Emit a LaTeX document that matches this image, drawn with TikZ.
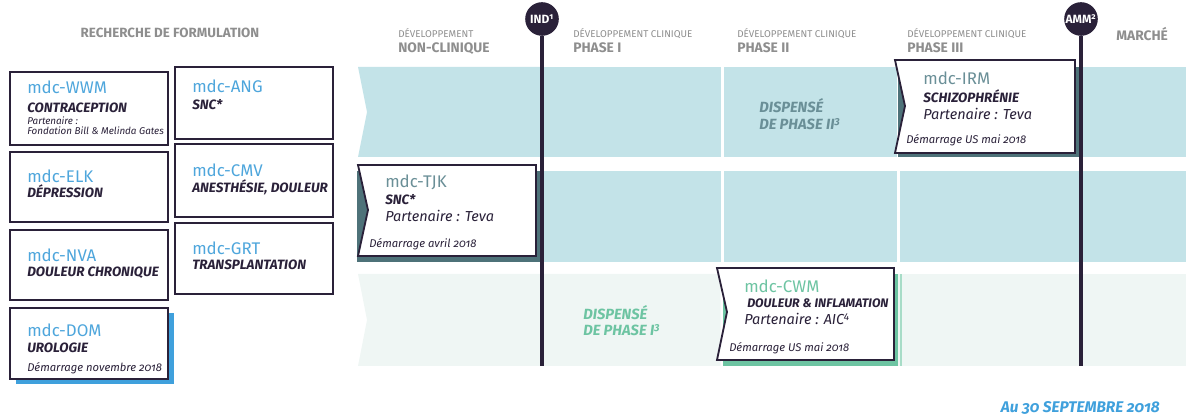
\documentclass[tikz,border=0pt]{standalone}
\usepackage{fontspec}
\setmainfont{Fira Sans}[Numbers=OldStyle]
\usepackage{tikz}
\usetikzlibrary{fit}

\definecolor{ink}{HTML}{2A2139}
\definecolor{mdcblue}{HTML}{4EA6DC}
\definecolor{headgray}{HTML}{8E8E8E}
\definecolor{bandblue}{HTML}{C3E3E8}
\definecolor{bandmint}{HTML}{EFF6F4}
\definecolor{tealdark}{HTML}{4E7279}
\definecolor{tealtext}{HTML}{6A8F97}
\definecolor{mint}{HTML}{6DC4A2}
\definecolor{domblue}{HTML}{3FA0DC}

\begin{document}
\begin{tikzpicture}[x=0.025cm, y=-0.025cm,
    card/.style={draw=ink, line width=1.3pt, fill=white, inner sep=0pt, line join=miter},
    txt/.style={anchor=base west, inner sep=0pt, text=ink},
    code/.style={txt, font=\fontsize{12}{13}\selectfont, text=mdcblue},
    area/.style={txt, font=\fontsize{9.6}{10}\selectfont\bfseries\itshape},
    partner/.style={txt, font=\fontsize{10.3}{11}\selectfont\itshape},
    startdate/.style={txt, font=\fontsize{8}{9}\selectfont\itshape},
    small/.style={txt, font=\fontsize{7}{8}\selectfont\itshape},
    stage/.style={txt, font=\fontsize{7}{8}\selectfont, text=headgray},
    phase/.style={txt, font=\fontsize{9.8}{10}\selectfont\bfseries, text=headgray},
    waived/.style={txt, font=\fontsize{10.5}{12}\selectfont\bfseries\itshape},
    milestone/.style={circle, fill=ink, text=white, minimum size=0.84cm, inner sep=0pt,
      font=\fontsize{8.5}{9}\selectfont\bfseries},
    stem/.style={draw=ink, line width=2.2pt},
  ]
  \useasboundingbox (0,0) rectangle (1186,419);

  % bands
  \foreach \top/\bot in {67/157, 171/262}
    \foreach \a/\b in {542/720.5, 723.5/896.5, 899.5/1186}
      \fill[bandblue] (\a,\top) rectangle (\b,\bot);
  \fill[bandblue] (358,67) -- (542,67) -- (542,157) -- (358,157) -- (367,112) -- cycle;
  \fill[tealdark] (898,67) rectangle (1081,157);
  \fill[tealdark] (357,171) rectangle (542,262);
  \fill[bandmint] (358,274) -- (720.5,274) -- (720.5,366) -- (358,366) -- (367,320) -- cycle;
  \fill[bandmint] (723.5,274) rectangle (1186,366);
  \fill[mint] (723,274) rectangle (898,366);
  \fill[mint!60] (900,274) rectangle (902,366);

  % headers
  \node[txt, anchor=base, font=\fontsize{9.5}{10}\selectfont\bfseries, text=headgray] (research) at (170,38) {RECHERCHE DE FORMULATION};
  \node[stage] (st1) at (398,38) {DÉVELOPPEMENT};
  \node[phase] (ph1) at (398,53) {NON-CLINIQUE};
  \node[stage] (st2) at (573,38) {DÉVELOPPEMENT CLINIQUE};
  \node[phase] (ph2) at (573,53) {PHASE I};
  \node[stage] (st3) at (737,38) {DÉVELOPPEMENT CLINIQUE};
  \node[phase] (ph3) at (737,53) {PHASE II};
  \node[stage] (st4) at (907,38) {DÉVELOPPEMENT CLINIQUE};
  \node[phase] (ph4) at (907,53) {PHASE III};
  \node[phase] (market) at (1116,41) {MARCHÉ};

  % milestones
  \node[milestone] (ind) at (542,19) {IND\textsuperscript{1}};
  \node[milestone] (amm) at (1081,19) {AMM\textsuperscript{2}};
  \coordinate (indend) at (542,366);
  \coordinate (ammend) at (1081,366);
  \draw[stem] (ind.south) -- (indend);
  \draw[stem] (amm.south) -- (ammend);

  % formulation
  \node[card, fit={(10,72) (168,145)}] (wwm) {};
  \node[code] (wwmcode) at (27,94) {mdc-WWM};
  \node[area] (wwmarea) at (27,113) {CONTRACEPTION};
  \node[small] (wwmpart) at (27,125) {Partenaire :};
  \node[small] (wwmname) at (27,135) {Fondation Bill \& Melinda Gates};

  \node[card, fit={(10,152) (168,222)}] (elk) {};
  \node[code] (elkcode) at (27,183) {mdc-ELK};
  \node[area] (elkarea) at (27,198) {DÉPRESSION};

  \node[card, fit={(10,230) (168,300)}] (nva) {};
  \node[code] (nvacode) at (27,262) {mdc-NVA};
  \node[area] (nvaarea) at (27,277) {DOULEUR CHRONIQUE};

  \fill[domblue] (16,313) rectangle (174,384);
  \node[card, fit={(10,308) (168,379)}] (dom) {};
  \node[code] (domcode) at (27,337) {mdc-DOM};
  \node[area] (domarea) at (27,353) {UROLOGIE};
  \node[startdate] (domstart) at (27,372) {Démarrage novembre 2018};

  \node[card, fit={(175,67) (333,139)}] (ang) {};
  \node[code] (angcode) at (192,93) {mdc-ANG};
  \node[area] (angarea) at (192,110) {SNC*};

  \node[card, fit={(175,144) (333,217)}] (cmv) {};
  \node[code] (cmvcode) at (192,177) {mdc-CMV};
  \node[area] (cmvarea) at (192,193) {ANESTHÉSIE, DOULEUR};

  \node[card, fit={(175,223) (333,294)}] (grt) {};
  \node[code] (grtcode) at (192,255) {mdc-GRT};
  \node[area] (grtarea) at (192,270) {TRANSPLANTATION};

  % pipeline
  \draw[card] (358,165) -- (536,165) -- (536,256) -- (358,256) -- (368,210) -- cycle;
  \node[code, text=tealtext] (tjkcode) at (385,188) {mdc-TJK};
  \node[area] (tjkarea) at (385,205) {SNC*};
  \node[partner] (tjkpart) at (385,222) {Partenaire : Teva};
  \node[startdate] (tjkstart) at (369,248) {Démarrage avril 2018};

  \draw[card] (895,60) -- (1075,60) -- (1075,153) -- (895,153) -- (905,106) -- cycle;
  \node[code, text=tealtext] (irmcode) at (923,85) {mdc-IRM};
  \node[area] (irmarea) at (923,103) {SCHIZOPHRÉNIE};
  \node[partner] (irmpart) at (923,120) {Partenaire : Teva};
  \node[startdate] (irmstart) at (906,144) {Démarrage US mai 2018};

  \draw[card] (717,268) -- (894,268) -- (894,360) -- (717,360) -- (727,312) -- cycle;
  \node[code, text=mint] (cwmcode) at (744,293) {mdc-CWM};
  \node[area, font=\fontsize{8.8}{9}\selectfont\bfseries\itshape] (cwmarea) at (747,308) {DOULEUR \& INFLAMATION};
  \node[partner] (cwmpart) at (744,325) {Partenaire : AIC\textsuperscript{4}};
  \node[startdate] (cwmstart) at (729,352) {Démarrage US mai 2018};

  \node[waived, text=tealtext] (skip2a) at (759,113) {DISPENSÉ};
  \node[waived, text=tealtext] (skip2b) at (759,130) {DE PHASE II\textsuperscript{3}};
  \node[waived, text=mint] (skip1a) at (583,320) {DISPENSÉ};
  \node[waived, text=mint] (skip1b) at (583,336) {DE PHASE I\textsuperscript{3}};

  \node[txt, anchor=base east, font=\fontsize{11}{12}\selectfont\bfseries\itshape, text=domblue] (asof) at (1160,413) {Au 30 SEPTEMBRE 2018};
\end{tikzpicture}
\end{document}
